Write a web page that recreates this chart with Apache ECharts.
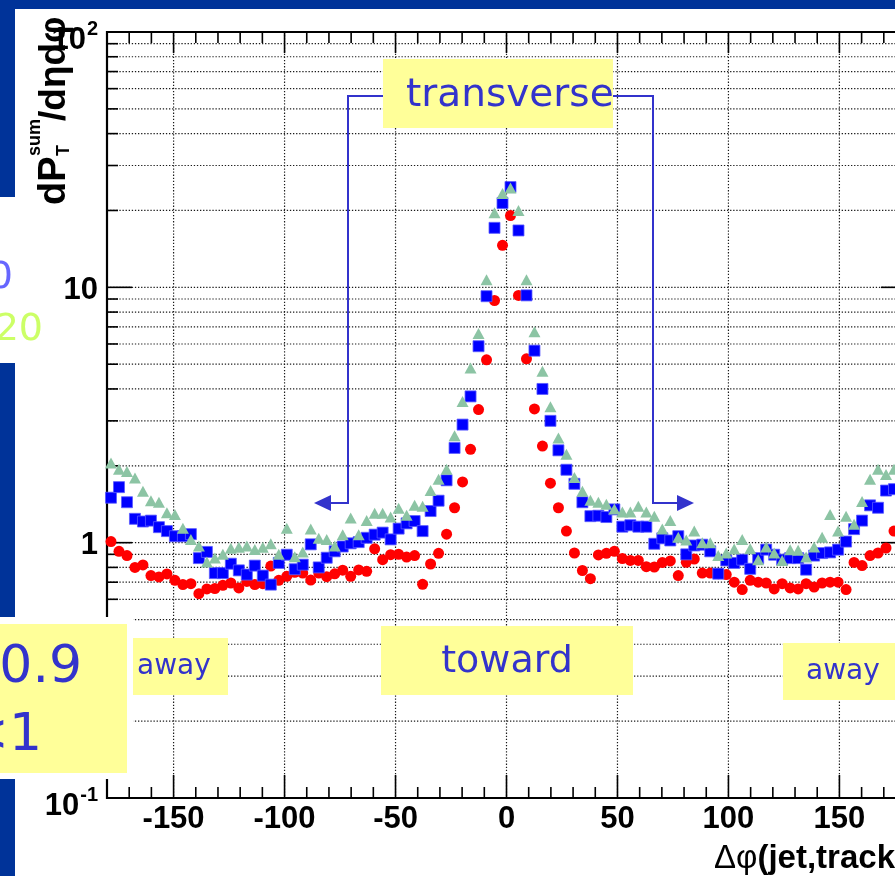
<!DOCTYPE html>
<html><head><meta charset="utf-8">
<script src="https://cdn.jsdelivr.net/npm/echarts@6/dist/echarts.min.js"></script>
<style>html,body{margin:0;padding:0;background:#fff;}#c{width:895px;height:876px;}</style>
</head><body><div id="c"></div>
<script>
// bin centres of delta-phi (deg)
const phiBins = [-178.2,-174.6,-171,-167.4,-163.8,-160.2,-156.6,-153,-149.4,-145.8,
-142.2,-138.6,-135,-131.4,-127.8,-124.2,-120.6,-117,-113.4,-109.8,
-106.2,-102.6,-99,-95.4,-91.8,-88.2,-84.6,-81,-77.4,-73.8,
-70.2,-66.6,-63,-59.4,-55.8,-52.2,-48.6,-45,-41.4,-37.8,
-34.2,-30.6,-27,-23.4,-19.8,-16.2,-12.6,-9,-5.4,-1.8,
1.8,5.4,9,12.6,16.2,19.8,23.4,27,30.6,34.2,
37.8,41.4,45,48.6,52.2,55.8,59.4,63,66.6,70.2,
73.8,77.4,81,84.6,88.2,91.8,95.4,99,102.6,106.2,
109.8,113.4,117,120.6,124.2,127.8,131.4,135,138.6,142.2,
145.8,149.4,153,156.6,160.2,163.8,167.4,171,174.6,178.2];

const redVals = [1.01,0.925,0.89,0.80,0.818,0.743,0.734,0.754,0.712,0.685,
0.691,0.631,0.659,0.661,0.681,0.695,0.665,0.705,0.685,0.691,
0.81,0.712,0.738,0.765,0.76,0.714,0.76,0.736,0.755,0.78,
0.738,0.782,0.772,0.946,0.858,0.897,0.90,0.878,0.89,0.687,
0.825,0.908,1.08,1.37,1.73,2.32,3.32,5.2,8.88,14.6,
19.1,9.3,5.25,3.34,2.39,1.71,1.37,1.11,0.911,0.778,
0.723,0.895,0.908,0.925,0.866,0.852,0.852,0.805,0.803,0.836,
0.848,0.743,0.838,0.863,0.76,0.76,0.756,0.75,0.70,0.655,
0.712,0.70,0.695,0.659,0.691,0.665,0.659,0.691,0.67,0.695,
0.70,0.70,0.655,0.837,0.813,0.89,0.911,0.953,1.11,1.0];

const blueVals = [1.50,1.65,1.44,1.24,1.21,1.22,1.15,1.11,1.06,1.06,
1.08,0.87,0.92,0.76,0.76,0.827,0.779,0.75,0.813,0.743,
0.685,0.833,0.897,0.787,0.82,0.985,0.80,0.873,0.925,0.966,
0.994,1.005,1.045,1.075,1.095,1.03,1.135,1.19,1.215,1.11,
1.33,1.46,1.755,2.35,2.90,3.74,5.88,9.23,17.1,21.4,
24.7,16.7,9.3,5.65,4.0,3.0,2.30,1.93,1.70,1.44,
1.27,1.275,1.26,1.35,1.155,1.17,1.155,1.155,0.99,1.04,
1.02,1.06,0.90,0.975,0.982,0.925,0.756,0.852,0.833,0.858,
0.79,0.87,0.939,0.897,0.858,0.87,0.87,0.784,0.89,0.91,
0.916,0.939,1.01,1.13,1.22,1.40,1.37,1.60,1.62,1.55];

const greenVals = [2.05,1.94,1.90,1.79,1.59,1.46,1.44,1.31,1.29,1.14,
1.03,0.97,0.84,0.87,0.90,0.95,0.96,0.97,0.94,0.96,
0.99,0.90,1.14,0.88,0.92,1.13,1.04,1.03,0.97,1.075,
1.25,1.075,1.22,1.305,1.305,1.26,1.365,1.28,1.40,1.39,
1.60,1.77,1.94,2.62,3.57,4.83,6.6,10.7,19.6,23.3,
24.5,20.0,10.7,6.7,4.69,3.41,2.57,2.22,1.80,1.59,
1.465,1.44,1.415,1.355,1.32,1.32,1.39,1.32,1.27,1.13,
1.22,1.05,1.025,1.11,1.0,1.0,0.89,0.91,0.945,1.03,
0.947,0.858,0.962,0.91,0.852,0.939,0.933,0.879,0.962,1.05,
1.29,1.11,1.27,1.18,1.45,1.77,1.94,1.85,1.94,1.95];

const xMajorTicks = [-150,-100,-50,0,50,100,150];
const xMinorTicks = [-170,-160,-140,-130,-120,-110,-90,-80,-70,-60,-40,-30,-20,-10,
  10,20,30,40,60,70,80,90,110,120,130,140,160,170];
const yMajorTicks = [0.1,1,10,100];
const yMinorTicks = [0.2,0.3,0.4,0.5,0.6,0.7,0.8,0.9,2,3,4,5,6,7,8,9,20,30,40,50,60,70,80,90];

const NAVY = '#003399', YEL = '#ffff99', TXT = '#3333cc';
const AXF = 'Liberation Sans';

const toPairs = vals => phiBins.map((x, i) => [x, vals[i]]);

const mctx = document.createElement('canvas').getContext('2d');
function textW(t, px) { mctx.font = 'bold ' + px + 'px "' + AXF + '"'; return mctx.measureText(t).width; }

const chart = echarts.init(document.getElementById('c'), null, {renderer: 'canvas'});

const frameSeries = {
  type: 'custom', z: 1, silent: true, clip: false,
  data: [[0, 1]],
  renderItem: function (params, api) {
    const cs = params.coordSys;
    const L = cs.x, T = cs.y, R = cs.x + cs.width, B = cs.y + cs.height;
    const ch = [];
    const dotted = {stroke: '#1a1a1a', lineWidth: 1.2, lineDash: [1.3, 1.8], fill: 'none'};
    const solid = {stroke: '#000', lineWidth: 1.6, fill: 'none'};
    const seg = (x1, y1, x2, y2, st) => ch.push({type: 'line', shape: {x1, y1, x2, y2}, style: st});
    yMinorTicks.concat([1, 10]).forEach(v => { const y = api.coord([0, v])[1]; seg(L, y, R, y, dotted); });
    xMajorTicks.forEach(v => { const x = api.coord([v, 1])[0]; seg(x, T, x, B, dotted); });
    xMajorTicks.forEach(v => { const x = api.coord([v, 1])[0]; seg(x, B, x, B - 23, solid); seg(x, T, x, T + 21, solid); });
    xMinorTicks.forEach(v => { const x = api.coord([v, 1])[0]; seg(x, B, x, B - 11, solid); seg(x, T, x, T + 11, solid); });
    [1, 10].forEach(v => { const y = api.coord([0, v])[1]; seg(L, y, L + 25, y, solid); seg(R, y, R - 25, y, solid); });
    yMinorTicks.forEach(v => { const y = api.coord([0, v])[1]; seg(L, y, L + 11, y, solid); seg(R, y, R - 11, y, solid); });
    ch.push({type: 'rect', shape: {x: L, y: T, width: R - L, height: B - T}, style: {stroke: '#000', lineWidth: 2.2, fill: 'none'}});
    // y tick labels (powers of ten with superscript exponents)
    const lab = (x, y, text, px) => ch.push({type: 'text', x, y, style: {
      text, fontSize: px, fontWeight: 'bold', fontFamily: AXF, fill: '#000', align: 'right', verticalAlign: 'middle'}});
    yMajorTicks.forEach(v => {
      const y = api.coord([0, v])[1];
      const e = Math.round(Math.log10(v));
      const xr = L - 9;
      if (e === 0 || e === 1) {
        lab(xr, y + 3, e === 0 ? '1' : '10', 31);
      } else {
        const sup = String(e);
        lab(xr, y - 3, sup, 20);
        lab(xr - textW(sup, 20) - 1, y + 8.5, '10', 31);
      }
    });
    return {type: 'group', children: ch};
  }
};

const txt = (x, y, text, size, color, align) => ({
  type: 'text', x, y, z: 120,
  style: {text, fontSize: size, fontFamily: 'DejaVu Sans', fill: color, align: align || 'left', verticalAlign: 'middle'}
});
const bt = (x, y, text, px) => ({type: 'text', x, y, style: {text, fontSize: px, fontWeight: 'bold', fontFamily: AXF, fill: '#000', align: 'left', verticalAlign: 'middle'}});

const option = {
  animation: false,
  backgroundColor: '#ffffff',
  grid: {left: 107, top: 32, width: 799, height: 766, outerBoundsMode: 'none', containLabel: false},
  xAxis: {
    type: 'value', min: -180, max: 180, interval: 10,
    axisLine: {show: false}, axisTick: {show: false}, splitLine: {show: false},
    axisLabel: {
      margin: 6, color: '#000', fontSize: 31, fontWeight: 'bold', fontFamily: AXF,
      formatter: v => (Math.abs(v) < 180 && Math.round(v) % 50 === 0) ? String(Math.round(v)) : ''
    }
  },
  yAxis: {
    type: 'log', logBase: 10, min: 0.1, max: 100,
    axisLine: {show: false}, axisTick: {show: false}, splitLine: {show: false}, minorTick: {show: false},
    axisLabel: {show: false}
  },
  series: [
    frameSeries,
    {type: 'scatter', z: 3, name: 'red', data: toPairs(redVals), symbol: 'circle', symbolSize: 11,
     itemStyle: {color: '#ff0000', opacity: 1}},
    {type: 'scatter', z: 4, name: 'blue', data: toPairs(blueVals), symbol: 'rect', symbolSize: 11,
     itemStyle: {color: '#0000ff', borderColor: '#5a5aff', borderWidth: 0.8, opacity: 1}},
    {type: 'scatter', z: 5, name: 'green', data: toPairs(greenVals), symbol: 'triangle', symbolSize: [12, 11],
     itemStyle: {color: '#8cc4a4', opacity: 1}}
  ],
  graphic: [
    // slide background pieces
    {type: 'rect', z: 0, shape: {x: 0, y: 0, width: 895, height: 9}, style: {fill: NAVY}},
    {type: 'rect', z: 0, shape: {x: 0, y: 0, width: 15, height: 197}, style: {fill: NAVY}},
    {type: 'rect', z: 0, shape: {x: 0, y: 363, width: 15, height: 254}, style: {fill: NAVY}},
    {type: 'rect', z: 0, shape: {x: 0, y: 779, width: 15, height: 97}, style: {fill: NAVY}},
    // partial legend on the left
    txt(13, 278, '0', 38, '#6666ff', 'right'),
    txt(43, 330, '20', 38, '#ccff66', 'right'),
    // left cut-off yellow box
    {type: 'rect', z: 110, shape: {x: 0, y: 617, width: 133, height: 162}, style: {fill: '#ffffff'}},
    {type: 'rect', z: 111, shape: {x: 0, y: 624, width: 127, height: 149}, style: {fill: YEL}},
    txt(82, 668, '0.9', 52, TXT, 'right'),
    txt(42, 736, '<1', 52, TXT, 'right'),
    // away / toward / transverse boxes
    {type: 'rect', z: 111, shape: {x: 133, y: 638, width: 95, height: 57}, style: {fill: YEL}},
    txt(137, 667, 'away', 28, TXT, 'left'),
    {type: 'rect', z: 111, shape: {x: 381, y: 626, width: 252, height: 69}, style: {fill: YEL}},
    txt(507, 662, 'toward', 38, TXT, 'center'),
    {type: 'rect', z: 111, shape: {x: 783, y: 643, width: 120, height: 57}, style: {fill: YEL}},
    txt(806, 672, 'away', 28, TXT, 'left'),
    {type: 'rect', z: 111, shape: {x: 383, y: 59, width: 230, height: 69}, style: {fill: YEL}},
    txt(406, 96, 'transverse', 39, TXT, 'left'),
    // brackets with arrows
    {type: 'polyline', z: 115, shape: {points: [[383, 96], [348, 96], [348, 503], [328, 503]]}, style: {stroke: TXT, lineWidth: 2, fill: 'none'}},
    {type: 'polygon', z: 115, shape: {points: [[314, 503], [331, 495], [331, 511]]}, style: {fill: TXT}},
    {type: 'polyline', z: 115, shape: {points: [[613, 96], [653, 96], [653, 503], [680, 503]]}, style: {stroke: TXT, lineWidth: 2, fill: 'none'}},
    {type: 'polygon', z: 115, shape: {points: [[694, 503], [677, 495], [677, 511]]}, style: {fill: TXT}},
    // y axis title (rotated, reads bottom to top)
    {type: 'group', x: 55, y: 205, rotation: Math.PI / 2, z: 130, children: [
      bt(0, 0, 'dP', 38),
      bt(49, 9, 'T', 18),
      bt(49, -20, 'sum', 18),
      bt(84, 0, '/d\u03b7d\u03c6', 37)
    ]},
    // x axis title
    {type: 'text', x: 714, y: 859, z: 130, style: {
      text: '{g|\u0394\u03c6}{b|(jet,track)}',
      align: 'left', verticalAlign: 'middle',
      rich: {
        g: {fontSize: 33, fontFamily: AXF, fill: '#000'},
        b: {fontSize: 33, fontWeight: 'bold', fontFamily: AXF, fill: '#000'}
      }
    }}
  ]
};
chart.setOption(option);
</script>
</body></html>
